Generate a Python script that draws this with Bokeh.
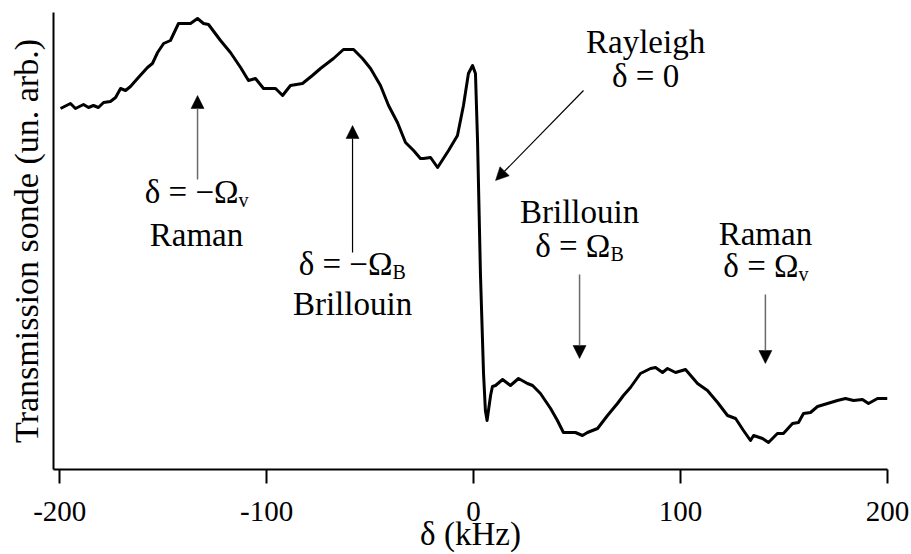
from bokeh.plotting import figure
from bokeh.models import Range1d, FixedTicker, Arrow, NormalHead
from bokeh.core.properties import value
from bokeh.embed import file_html
from bokeh.resources import INLINE

# ---- data: probe transmission vs detuning (arbitrary units) ----
delta_khz = [-199.6, -194.8, -192.4, -188.5, -186.1, -183.7, -181.3, -178.8, -175.5, -173.0,
             -170.6, -168.2, -165.8, -162.4, -157.6, -155.2, -152.7, -149.8, -146.5, -142.6,
             -136.8, -133.4, -130.5, -128.1, -122.3, -117.5, -112.6, -108.8, -105.4, -101.5,
             -95.7, -92.3, -88.5, -82.7, -77.9, -74.0, -67.7, -62.9, -58.0, -53.7,
             -49.8, -45.0, -41.1, -36.8, -32.9, -29.0, -25.7, -24.2, -20.8, -17.4,
             -12.1, -7.8, -4.9, -2.5, -0.5, 0.9, 1.9, 3.3, 4.8, 5.7,
             6.5, 8.2, 9.1, 10.6, 14.0, 17.8, 21.7, 26.0, 28.5, 32.3,
             37.2, 40.5, 43.4, 49.2, 52.6, 55.0, 59.9, 64.7, 69.5, 72.4,
             75.8, 80.6, 85.5, 87.9, 91.3, 93.7, 97.6, 102.4, 108.2, 113.0,
             117.9, 122.7, 126.6, 130.4, 133.8, 135.3, 139.6, 142.5, 146.8, 149.7,
             154.1, 157.0, 159.4, 162.8, 166.2, 171.0, 175.8, 179.7, 183.6, 187.9,
             190.8, 195.2, 200.0]
transmission = [361, 366, 361, 365, 362, 364, 362, 367, 368, 372,
                381, 379, 383, 391, 402, 406, 417, 426, 429, 446,
                446, 451, 446, 445, 429, 417, 402, 389, 391, 381,
                381, 374, 384, 386, 394, 401, 411, 420, 420, 411,
                401, 384, 364, 347, 327, 319, 311, 311, 312, 302,
                319, 334, 364, 396, 404, 396, 329, 196, 96, 59,
                49, 74, 83, 84, 90, 84, 91, 86, 84, 76,
                61, 49, 37, 37, 34, 37, 41, 54, 66, 74,
                82, 96, 101, 102, 97, 101, 97, 100, 86, 79,
                67, 54, 51, 39, 29, 34, 31, 27, 36, 36,
                46, 47, 56, 57, 63, 66, 69, 71, 69, 70,
                66, 71, 71]

x_ticks = [-200, -100, 0, 100, 200]
x_tick_labels = ["-200", "-100", "0", "100", "200"]

# annotation arrows
arr_x0 = [-133.4, -58.5, 53.1, 51.2, 141.0]
arr_y0 = [290, 217, 379, 195, 175]
arr_x1 = [-133.4, -58.5, 10.6, 51.2, 141.0]
arr_y1 = [374, 344, 289, 111, 106]
arr_color = ["#6a6a6a", "black", "black", "#6a6a6a", "#6a6a6a"]

# annotation plain lines (centered)
lab_x = [-133.9, -58.5, 83.1, 83.1, 51.2, 141.0]
lab_y = [223, 154, 416, 382, 246, 224]
lab_text = ["Raman", "Brillouin", "Rayleigh", "δ = 0", "Brillouin", "Raman"]

# annotation lines with subscript: main part right-aligned, subscript left-aligned
sub_x = [-113.6, -39.2, 66.1, 157.0]
sub_y = [266, 194, 212, 192]
sub_main = ["δ = −Ω", "δ = −Ω", "δ = Ω", "δ = Ω"]
sub_text = ["v", "B", "B", "v"]

FONT = "Liberation Serif"

p = figure(width=911, height=554, output_backend="svg", toolbar_location=None,
           x_range=Range1d(-203, 200), y_range=Range1d(0, 457),
           min_border_left=53, min_border_right=24, min_border_top=12, min_border_bottom=85)
p.outline_line_color = None
p.xgrid.visible = False
p.ygrid.visible = False
p.background_fill_color = "white"

# x axis
xa = p.xaxis[0]
xa.ticker = FixedTicker(ticks=x_ticks)
xa.major_label_overrides = {t: l for t, l in zip(x_ticks, x_tick_labels)}
xa.minor_tick_line_color = None
xa.major_tick_in = 0
xa.major_tick_out = 14
xa.major_tick_line_width = 2
xa.axis_line_width = 2
xa.major_label_text_font = FONT
xa.major_label_text_font_size = "29px"
xa.major_label_text_color = "black"
xa.major_label_standoff = 18
xa.axis_label = "δ (kHz)"
xa.axis_label_text_font = FONT
xa.axis_label_text_font_size = "33px"
xa.axis_label_text_font_style = "normal"
xa.axis_label_text_color = "black"
xa.axis_label_standoff = -8

# y axis
ya = p.yaxis[0]
ya.ticker = FixedTicker(ticks=[])
ya.minor_tick_line_color = None
ya.major_tick_line_color = None
ya.major_label_text_font_size = "0px"
ya.axis_line_width = 2
ya.axis_label = "Transmission sonde (un. arb.)"
ya.axis_label_text_font = FONT
ya.axis_label_text_font_size = "34px"
ya.axis_label_text_font_style = "normal"
ya.axis_label_text_color = "black"
ya.axis_label_standoff = 9

p.line(delta_khz, transmission, line_width=3, color="black", line_join="round")

for i in range(len(arr_x0)):
    p.add_layout(Arrow(x_start=arr_x0[i], y_start=arr_y0[i], x_end=arr_x1[i], y_end=arr_y1[i],
                       line_color=arr_color[i], line_width=1.5 if arr_color[i] != "black" else 1.2,
                       end=NormalHead(size=13, fill_color="black", line_color="black", line_width=0.5)))

p.text(x=lab_x, y=lab_y, text=lab_text, text_font=value(FONT), text_font_size=value("33px"),
       text_align="center", text_baseline="alphabetic", text_color="black", y_offset=-12)
p.text(x=sub_x, y=sub_y, text=sub_main, text_font=value(FONT), text_font_size=value("33px"),
       text_align="right", text_baseline="alphabetic", text_color="black", y_offset=-12)
p.text(x=sub_x, y=sub_y, text=sub_text, text_font=value(FONT), text_font_size=value("20px"),
       text_align="left", text_baseline="alphabetic", text_color="black", y_offset=-4)

open("out.html", "w").write(file_html(p, INLINE))
